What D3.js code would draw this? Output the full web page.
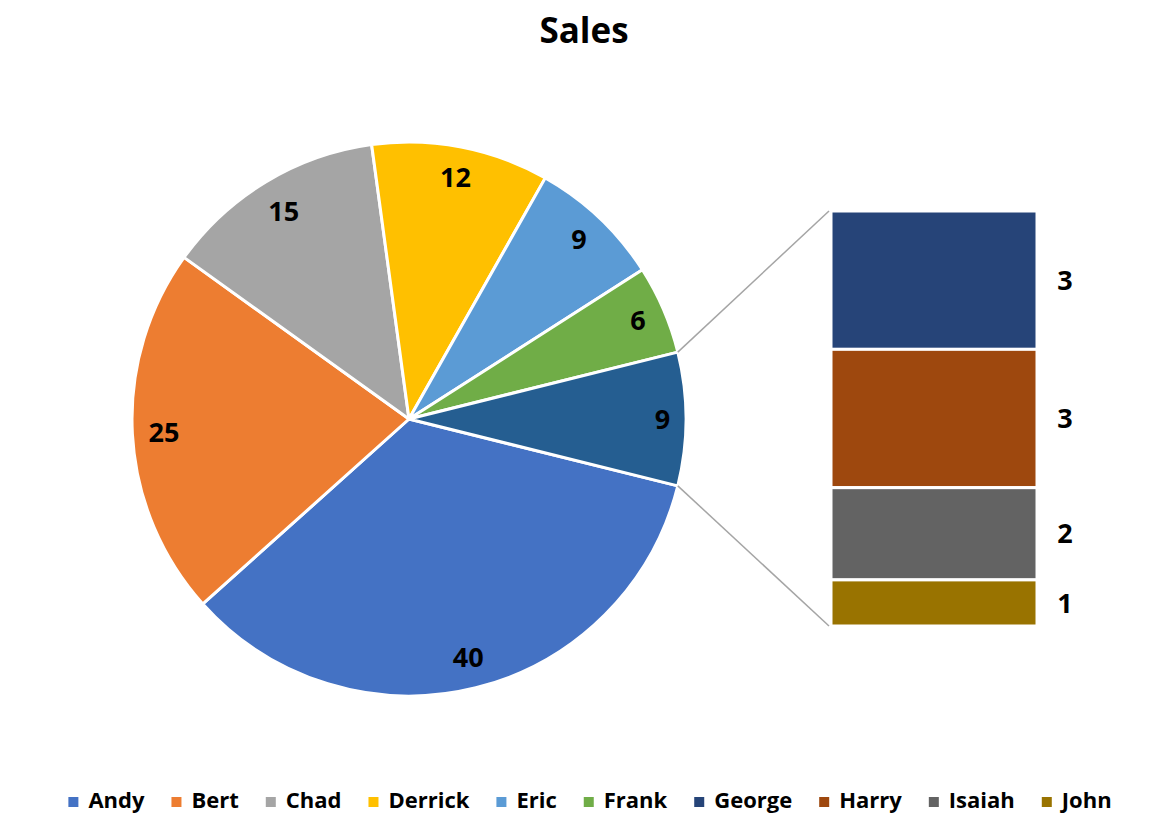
<!DOCTYPE html>
<html>
<head>
<meta charset="utf-8">
<script src="https://cdn.jsdelivr.net/npm/d3@7"></script>
<style>
  body { margin: 0; background: #fff; }
  text { font-family: "Open Sans", "Liberation Sans", sans-serif; font-weight: bold; fill: #000; }
</style>
</head>
<body>
<div id="chart"></div>
<script>
// pie slices (last one is the "Other" slice that gets split into the bar)
const pieNames = ["Andy", "Bert", "Chad", "Derrick", "Eric", "Frank", "Other"];
const pieValues = [40, 25, 15, 12, 9, 6, 9];
const pieColors = ["#4472C4", "#ED7D31", "#A5A5A5", "#FFC000", "#5B9BD5", "#70AD47", "#255E91"];

// second plot (bar) items
const barNames = ["George", "Harry", "Isaiah", "John"];
const barValues = [3, 3, 2, 1];
const barColors = ["#264478", "#9E480E", "#636363", "#997300"];

const legendNames = pieNames.slice(0, 6).concat(barNames);
const legendColors = pieColors.slice(0, 6).concat(barColors);

const width = 1170;
const height = 817;
const cx = 409, cy = 419, R = 277;

const svg = d3.select("#chart").append("svg")
  .attr("width", width)
  .attr("height", height);

svg.append("text")
  .attr("x", 584)
  .attr("y", 43)
  .attr("text-anchor", "middle")
  .style("font-size", "35px")
  .text("Sales");

// the Other slice sits centred on 3 o'clock, Andy starts right after it
const total = d3.sum(pieValues);
const otherSpan = pieValues[pieValues.length - 1] / total * 2 * Math.PI;
const start = Math.PI / 2 + otherSpan / 2;

const pie = d3.pie().sort(null).startAngle(start).endAngle(start + 2 * Math.PI);
const arcs = pie(pieValues);
const arc = d3.arc().innerRadius(0).outerRadius(R);

const g = svg.append("g").attr("transform", `translate(${cx},${cy})`);

g.selectAll("path")
  .data(arcs)
  .join("path")
  .attr("d", arc)
  .attr("fill", (d, i) => pieColors[i])
  .attr("stroke", "#fff")
  .attr("stroke-width", 3)
  .attr("stroke-linejoin", "round");

// labels at "inside end": pushed out until the box touches the rim
g.selectAll("text.lbl")
  .data(arcs)
  .join("text")
  .attr("class", "lbl")
  .attr("text-anchor", "middle")
  .attr("dy", "0.36em")
  .style("font-size", "27px")
  .text(d => d.data)
  .attr("transform", d => {
    const a = (d.startAngle + d.endAngle) / 2;
    const w = String(d.data).length * 7.5;
    const h = 12;
    const r = R - 16 - (w * Math.abs(Math.sin(a)) + h * Math.abs(Math.cos(a)));
    return `translate(${Math.sin(a) * r},${-Math.cos(a) * r})`;
  });

// bar of the split items
const barX = 831, barW = 206;
const y = d3.scaleLinear().domain([0, d3.sum(barValues)]).range([211, 626]);
const cum = d3.cumsum(barValues);
const barData = barValues.map((v, i) => ({ name: barNames[i], v, y0: cum[i] - v, y1: cum[i] }));

svg.append("g")
  .selectAll("rect")
  .data(barData)
  .join("rect")
  .attr("x", barX)
  .attr("y", d => y(d.y0))
  .attr("width", barW)
  .attr("height", d => y(d.y1) - y(d.y0))
  .attr("fill", (d, i) => barColors[i])
  .attr("stroke", "#fff")
  .attr("stroke-width", 3);

svg.append("g")
  .selectAll("text")
  .data(barData)
  .join("text")
  .attr("x", 1065)
  .attr("y", d => (y(d.y0) + y(d.y1)) / 2)
  .attr("dy", "0.36em")
  .attr("text-anchor", "middle")
  .style("font-size", "27px")
  .text(d => d.v);

// connector lines from Other slice edges to bar corners
const other = arcs[arcs.length - 1];
const edge = a => [cx + Math.sin(a) * R, cy - Math.cos(a) * R];
const p1 = edge(other.startAngle), p2 = edge(other.endAngle);
svg.append("g")
  .selectAll("line")
  .data([[p1, [barX - 2, y(0)]], [p2, [barX - 2, y(d3.sum(barValues))]]])
  .join("line")
  .attr("x1", d => d[0][0]).attr("y1", d => d[0][1])
  .attr("x2", d => d[1][0]).attr("y2", d => d[1][1])
  .attr("stroke", "#A5A5A5")
  .attr("stroke-width", 1.5);

// legend
const legend = svg.append("g");
const items = legend.selectAll("g")
  .data(legendNames)
  .join("g");
items.append("rect")
  .attr("width", 10).attr("height", 10)
  .attr("y", -11)
  .attr("fill", (d, i) => legendColors[i]);
items.append("text")
  .attr("x", 20)
  .style("font-size", "22px")
  .text(d => d);

const gap = 27;
let xpos = 0;
items.each(function () {
  const node = d3.select(this);
  node.attr("transform", `translate(${xpos},808)`);
  xpos += 20 + node.select("text").node().getComputedTextLength() + gap;
});
const legendW = xpos - gap;
legend.attr("transform", `translate(${590 - legendW / 2},0)`);
</script>
</body>
</html>
